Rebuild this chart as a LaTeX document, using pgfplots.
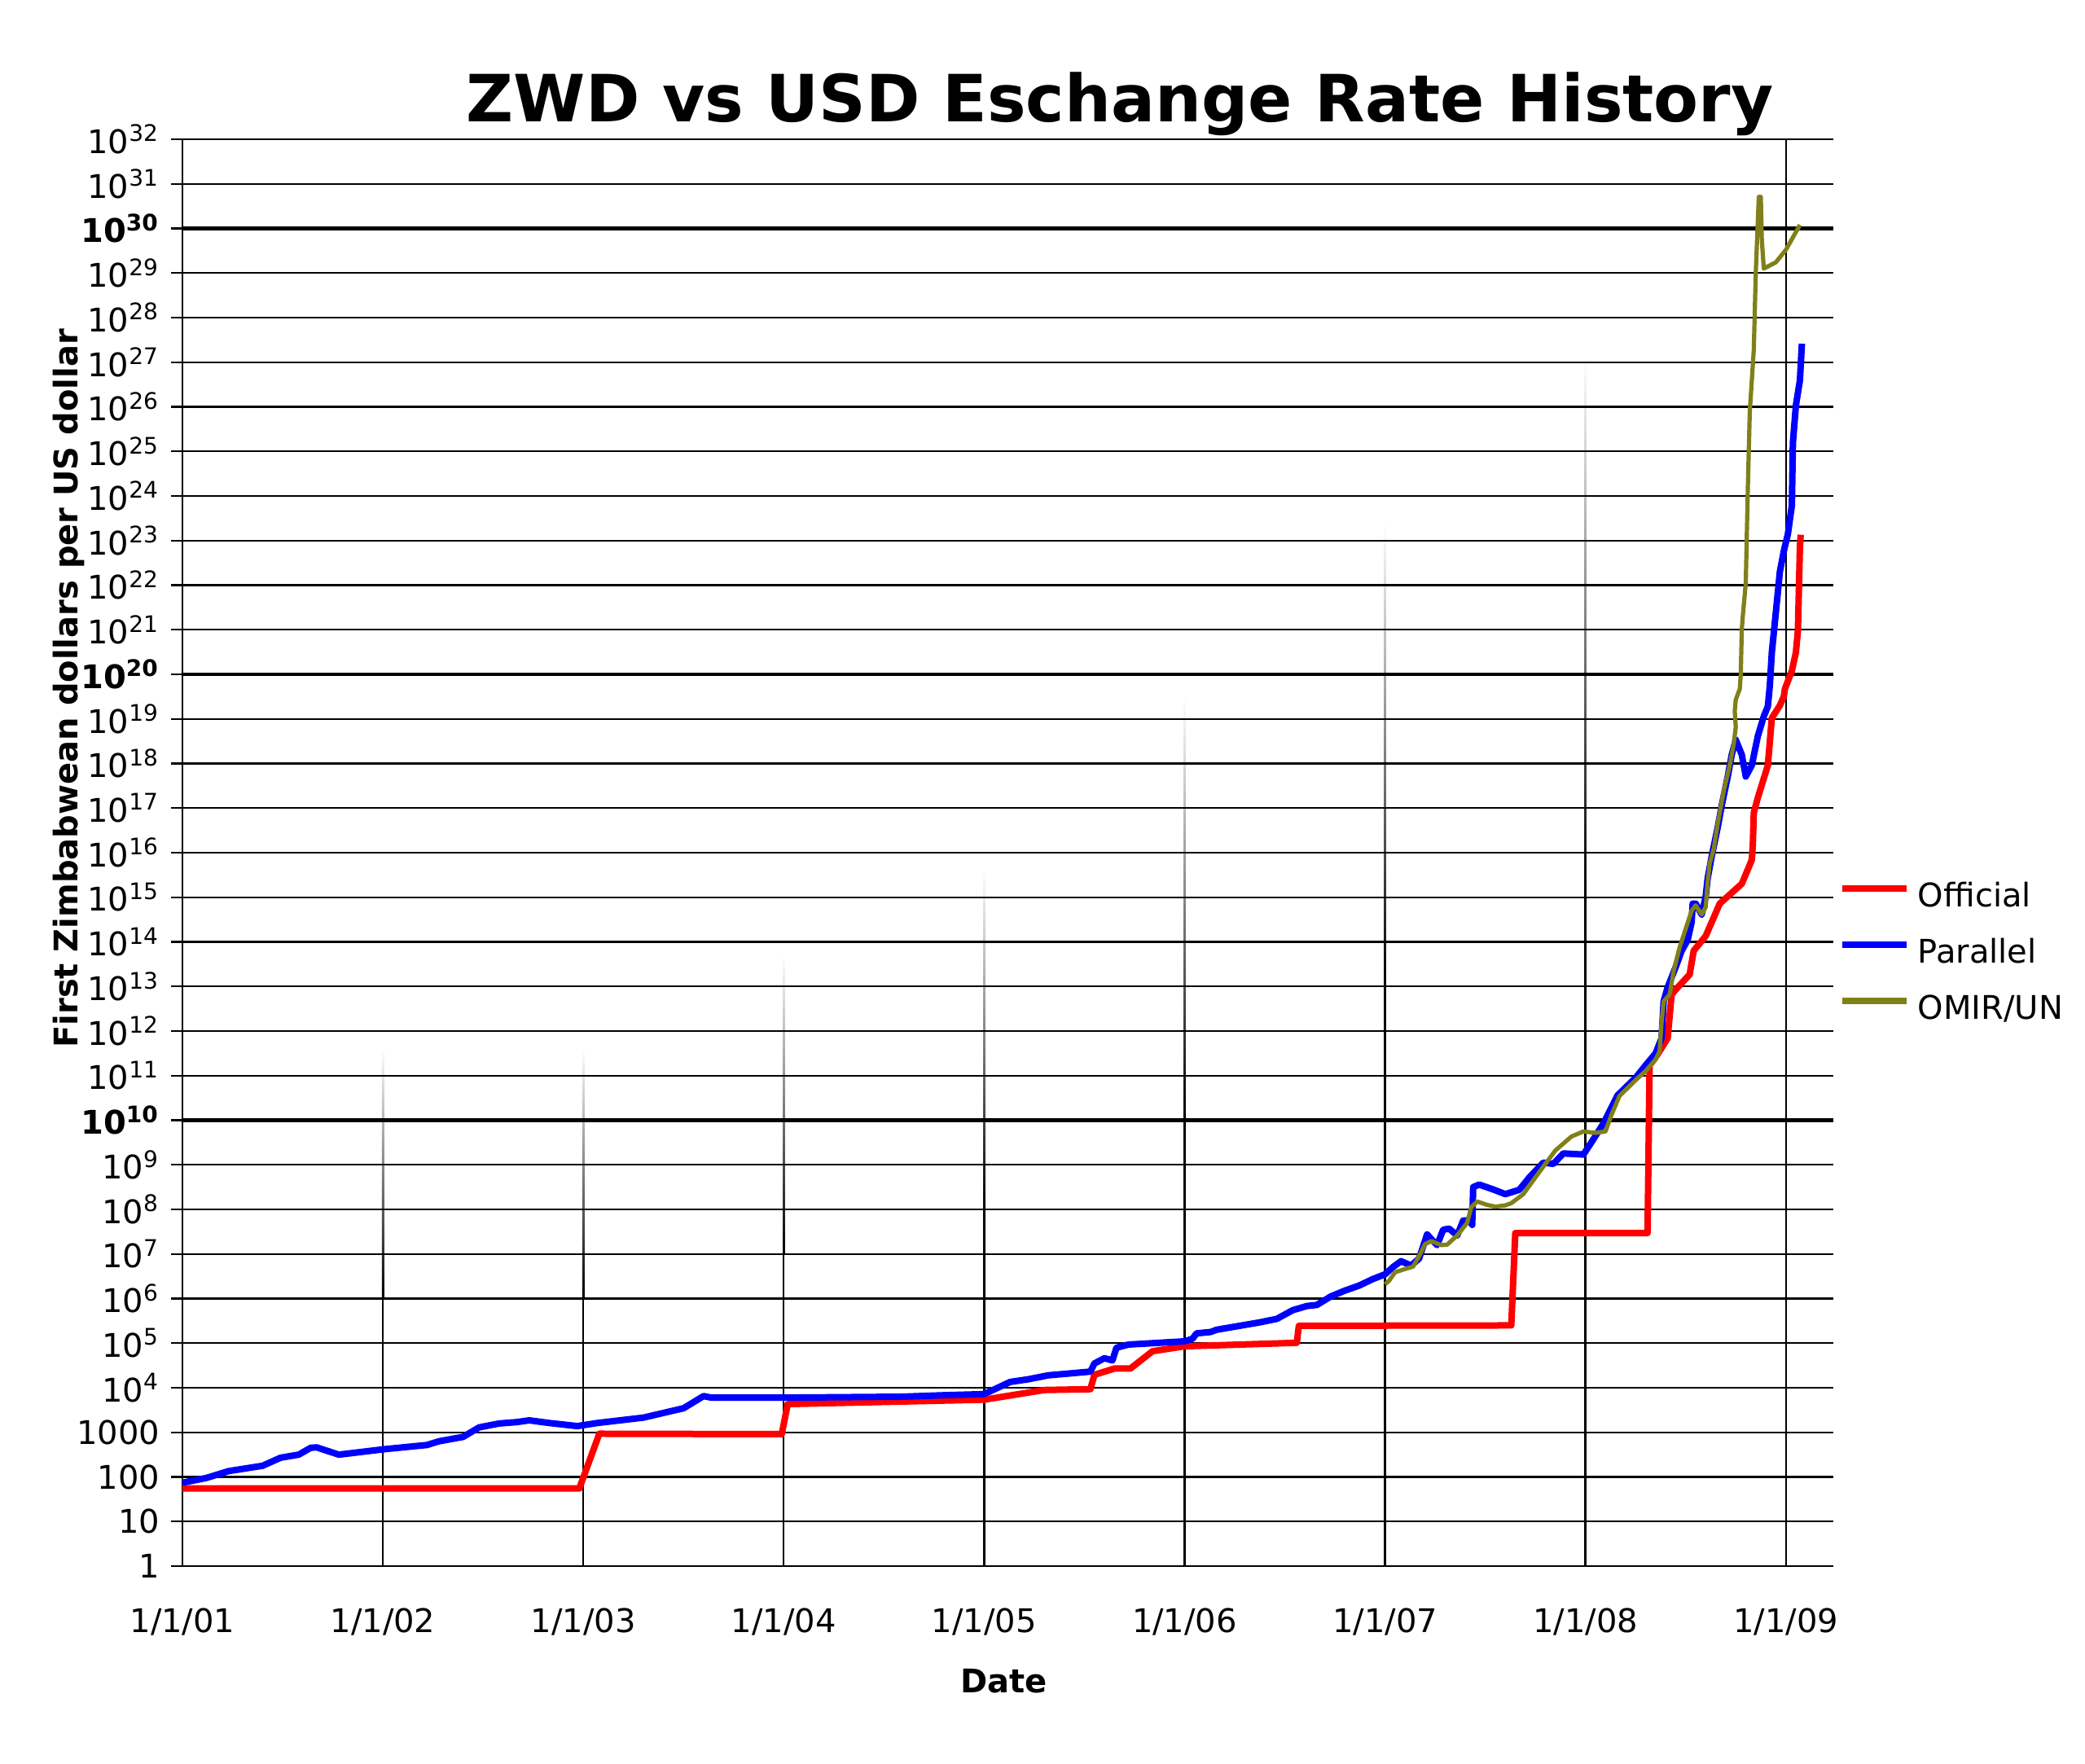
\documentclass[border=0pt]{standalone}
\usepackage{fontspec}
\setmainfont{DejaVu Sans}
\usepackage{pgfplots}
\pgfplotsset{compat=1.18}
\definecolor{olivel}{RGB}{128,128,26}
\begin{document}
\begin{tikzpicture}
\path[use as bounding box] (-56pt,-60.5pt) rectangle (584pt,480.75pt);
% year lines, fading toward the top (drawn behind the axis)
\draw[black, line width=0.6pt] (0pt,0pt) -- (0pt,438pt);
\draw[black, line width=0.6pt] (492.18pt,0pt) -- (492.18pt,438pt);
\draw[black, line width=0.6pt] (61.52pt,0pt) -- (61.52pt,82.1pt);
\shade[bottom color=black, top color=white] (61.22pt,82.1pt) rectangle (61.82pt,158.8pt);
\draw[black, line width=0.6pt] (123.04pt,0pt) -- (123.04pt,82.1pt);
\shade[bottom color=black, top color=white] (122.74pt,82.1pt) rectangle (123.34pt,158.8pt);
\draw[black, line width=0.6pt] (184.57pt,0pt) -- (184.57pt,95.8pt);
\shade[bottom color=black, top color=white] (184.27pt,95.8pt) rectangle (184.87pt,187.5pt);
\draw[black, line width=0.6pt] (246.09pt,0pt) -- (246.09pt,109.5pt);
\shade[bottom color=black, top color=white] (245.79pt,109.5pt) rectangle (246.39pt,213.5pt);
\draw[black, line width=0.6pt] (307.61pt,0pt) -- (307.61pt,136.9pt);
\shade[bottom color=black, top color=white] (307.31pt,136.9pt) rectangle (307.91pt,266.9pt);
\draw[black, line width=0.6pt] (369.13pt,0pt) -- (369.13pt,177.9pt);
\shade[bottom color=black, top color=white] (368.83pt,177.9pt) rectangle (369.43pt,320.3pt);
\draw[black, line width=0.6pt] (430.65pt,0pt) -- (430.65pt,205.3pt);
\shade[bottom color=black, top color=white] (430.35pt,205.3pt) rectangle (430.95pt,370.9pt);
\begin{axis}[
  at={(0pt,0pt)}, anchor=south west, scale only axis,
  width=506.75pt, height=438pt,
  xmin=2001, xmax=2009.237, ymin=1, ymax=1e32, ymode=log,
  axis line style={draw=none},
  xtick={2001,2002,2003,2004,2005,2006,2007,2008,2009},
  xticklabels={1/1/01,1/1/02,1/1/03,1/1/04,1/1/05,1/1/06,1/1/07,1/1/08,1/1/09},
  xtick style={draw=none},
  xticklabel style={yshift=-6pt},
  xminorticks=false, yminorticks=false,
  ytick={1,10,100,1000,1e4,1e5,1e6,1e7,1e8,1e9,1e11,1e12,1e13,1e14,1e15,1e16,1e17,1e18,1e19,1e21,1e22,1e23,1e24,1e25,1e26,1e27,1e28,1e29,1e31,1e32},
  yticklabels={1,10,100,1000,10\textsuperscript{4},10\textsuperscript{5},10\textsuperscript{6},10\textsuperscript{7},10\textsuperscript{8},10\textsuperscript{9},10\textsuperscript{11},10\textsuperscript{12},10\textsuperscript{13},10\textsuperscript{14},10\textsuperscript{15},10\textsuperscript{16},10\textsuperscript{17},10\textsuperscript{18},10\textsuperscript{19},10\textsuperscript{21},10\textsuperscript{22},10\textsuperscript{23},10\textsuperscript{24},10\textsuperscript{25},10\textsuperscript{26},10\textsuperscript{27},10\textsuperscript{28},10\textsuperscript{29},10\textsuperscript{31},10\textsuperscript{32}},
  extra y ticks={1e10,1e20,1e30},
  extra y tick labels={\textbf{10\textsuperscript{10}},\textbf{10\textsuperscript{20}},\textbf{10\textsuperscript{30}}},
  extra y tick style={major grid style={black,line width=1.1pt}},
  ytick pos=left, tick align=outside, major tick length=3.5pt,
  ytick style={black, line width=0.6pt},
  ymajorgrids, major grid style={black, line width=0.6pt},
  tick label style={font=\fontsize{10}{12}\selectfont},
  legend style={draw=none, fill=none, at={(rel axis cs:1,0.4287)}, anchor=west, xshift=1.5pt,
    inner sep=0pt, row sep=7.75pt,
    nodes={inner sep=0pt, text height=7.5pt, text depth=2pt, font=\fontsize{10}{12}\selectfont},
    /tikz/every odd column/.append style={column sep=2.3pt}},
  legend cell align=left,
  legend image code/.code={\draw[#1, line width=2.2pt] (0pt,3pt) -- (19.75pt,3pt);},
]
% Official
\addplot[red, line width=2pt, line join=round] coordinates {
(2001.00,5.5e1)(2002.98,5.5e1)(2003.08,9.3e2)(2003.99,9.1e2)(2004.02,4.3e3)(2005.00,5.4e3)(2005.30,8.9e3)(2005.53,9.3e3)(2005.55,1.95e4)(2005.65,2.7e4)(2005.73,2.7e4)(2005.84,6.6e4)(2006.00,8.5e4)(2006.56,1.02e5)(2006.57,2.45e5)(2007.63,2.5e5)(2007.65,2.95e7)(2008.31,2.95e7)(2008.32,1.7e11)(2008.36,3.0e11)(2008.41,6.9e11)(2008.43,6.6e12)(2008.46,9.5e12)(2008.52,1.86e13)(2008.54,6.3e13)(2008.60,1.35e14)(2008.67,7.2e14)(2008.73,1.26e15)(2008.78,2.0e15)(2008.83,6.9e15)(2008.835,1.48e16)(2008.84,7.9e16)(2008.86,1.7e17)(2008.91,9.1e17)(2008.93,1.05e19)(2008.97,2.0e19)(2008.99,3.2e19)(2008.995,4.7e19)(2009.03,1.2e20)(2009.05,3.1e20)(2009.06,9.5e20)(2009.07,7.1e22)(2009.074,1.35e23)
};
% Parallel
\addplot[blue, line width=2pt, line join=round] coordinates {
(2001.00,7.4e1)(2001.12,9.5e1)(2001.23,1.35e2)(2001.40,1.78e2)(2001.49,2.7e2)(2001.58,3.16e2)(2001.64,4.5e2)(2001.67,4.6e2)(2001.78,3.16e2)(2002.01,4.2e2)(2002.22,5.2e2)(2002.28,6.3e2)(2002.40,7.9e2)(2002.48,1.29e3)(2002.58,1.58e3)(2002.67,1.7e3)(2002.73,1.86e3)(2002.83,1.62e3)(2002.97,1.38e3)(2003.07,1.62e3)(2003.30,2.14e3)(2003.50,3.47e3)(2003.60,6.5e3)(2003.64,6.0e3)(2004.01,6.0e3)(2004.59,6.3e3)(2004.80,6.8e3)(2005.00,7.2e3)(2005.13,1.35e4)(2005.22,1.55e4)(2005.32,1.9e4)(2005.53,2.3e4)(2005.55,3.5e4)(2005.60,4.6e4)(2005.64,4.1e4)(2005.66,7.9e4)(2005.72,9.3e4)(2006.00,1.1e5)(2006.04,1.26e5)(2006.06,1.66e5)(2006.13,1.78e5)(2006.16,2.0e5)(2006.37,2.9e5)(2006.46,3.5e5)(2006.54,5.5e5)(2006.61,6.8e5)(2006.66,7.2e5)(2006.73,1.12e6)(2006.80,1.51e6)(2006.87,1.95e6)(2006.94,2.75e6)(2007.00,3.5e6)(2007.04,5.1e6)(2007.08,6.9e6)(2007.13,5.5e6)(2007.17,7.9e6)(2007.21,2.75e7)(2007.24,1.95e7)(2007.26,1.58e7)(2007.29,3.5e7)(2007.32,3.7e7)(2007.36,2.6e7)(2007.39,5.6e7)(2007.42,5.75e7)(2007.435,4.5e7)(2007.44,3.16e8)(2007.47,3.6e8)(2007.54,2.8e8)(2007.60,2.2e8)(2007.67,2.75e8)(2007.72,5.2e8)(2007.79,1.12e9)(2007.84,1.05e9)(2007.89,1.8e9)(2007.99,1.7e9)(2008.03,3.2e9)(2008.09,8.5e9)(2008.16,3.6e10)(2008.25,8.9e10)(2008.30,1.7e11)(2008.35,3.16e11)(2008.38,6.9e11)(2008.39,4.6e12)(2008.41,9.5e12)(2008.45,2.7e13)(2008.48,6.3e13)(2008.51,1.1e14)(2008.53,2.8e14)(2008.535,7.2e14)(2008.55,7.2e14)(2008.58,4.1e14)(2008.60,1.05e15)(2008.61,2.7e15)(2008.63,8.3e15)(2008.66,3.7e16)(2008.68,1.15e17)(2008.71,5.1e17)(2008.73,1.58e18)(2008.75,3.4e18)(2008.78,1.58e18)(2008.80,5.1e17)(2008.83,9.1e17)(2008.86,4.1e18)(2008.89,1.15e19)(2008.91,1.9e19)(2008.92,5.6e19)(2008.93,3.1e20)(2008.95,2.45e21)(2008.97,2.0e22)(2008.99,5.9e22)(2009.01,1.4e23)(2009.03,6.2e23)(2009.035,1.55e25)(2009.05,1.07e26)(2009.07,3.9e26)(2009.08,2.6e27)
};
% OMIR/UN
\addplot[olivel, line width=1.3pt, line join=round] coordinates {
(2007.00,2.1e6)(2007.02,2.5e6)(2007.05,3.9e6)(2007.10,4.6e6)(2007.14,5.2e6)(2007.17,8.9e6)(2007.20,1.66e7)(2007.23,1.95e7)(2007.28,1.58e7)(2007.31,1.62e7)(2007.36,2.6e7)(2007.41,5.0e7)(2007.43,1.12e8)(2007.46,1.5e8)(2007.51,1.26e8)(2007.55,1.15e8)(2007.60,1.23e8)(2007.63,1.38e8)(2007.69,2.2e8)(2007.77,6.9e8)(2007.85,2.1e9)(2007.93,4.3e9)(2007.99,5.6e9)(2008.05,5.2e9)(2008.10,5.6e9)(2008.13,1.32e10)(2008.17,3.5e10)(2008.25,7.9e10)(2008.30,1.26e11)(2008.35,2.3e11)(2008.37,3.5e11)(2008.38,1.62e12)(2008.39,4.6e12)(2008.42,6.6e12)(2008.44,2.2e13)(2008.47,7.6e13)(2008.53,5.0e14)(2008.55,6.6e14)(2008.58,4.1e14)(2008.60,6.0e14)(2008.61,2.2e15)(2008.62,5.8e15)(2008.64,1.2e16)(2008.66,4.5e16)(2008.69,2.45e17)(2008.72,9.1e17)(2008.74,2.8e18)(2008.75,6.6e18)(2008.745,1.5e19)(2008.75,2.7e19)(2008.77,4.7e19)(2008.775,1.0e20)(2008.78,1.0e21)(2008.785,2.0e21)(2008.80,1.12e22)(2008.81,1.38e24)(2008.82,7.8e25)(2008.84,1.9e27)(2008.85,1.07e29)(2008.865,5.1e30)(2008.875,5.1e30)(2008.88,5.4e29)(2008.89,1.26e29)(2008.95,1.74e29)(2009.00,3.3e29)(2009.07,1.2e30)
};
\legend{Official,Parallel,OMIR/UN}
\end{axis}
\node[font=\fontsize{20}{24}\selectfont\bfseries, anchor=base] at (287.8pt,443.25pt) {ZWD vs USD Eschange Rate History};
\node[font=\fontsize{10}{12}\selectfont\bfseries, rotate=90, anchor=center] at (-34.8pt,269.4pt) {First Zimbabwean dollars per US dollar};
\node[font=\fontsize{10}{12}\selectfont\bfseries, anchor=center] at (252.2pt,-35.25pt) {Date};
\end{tikzpicture}
\end{document}
